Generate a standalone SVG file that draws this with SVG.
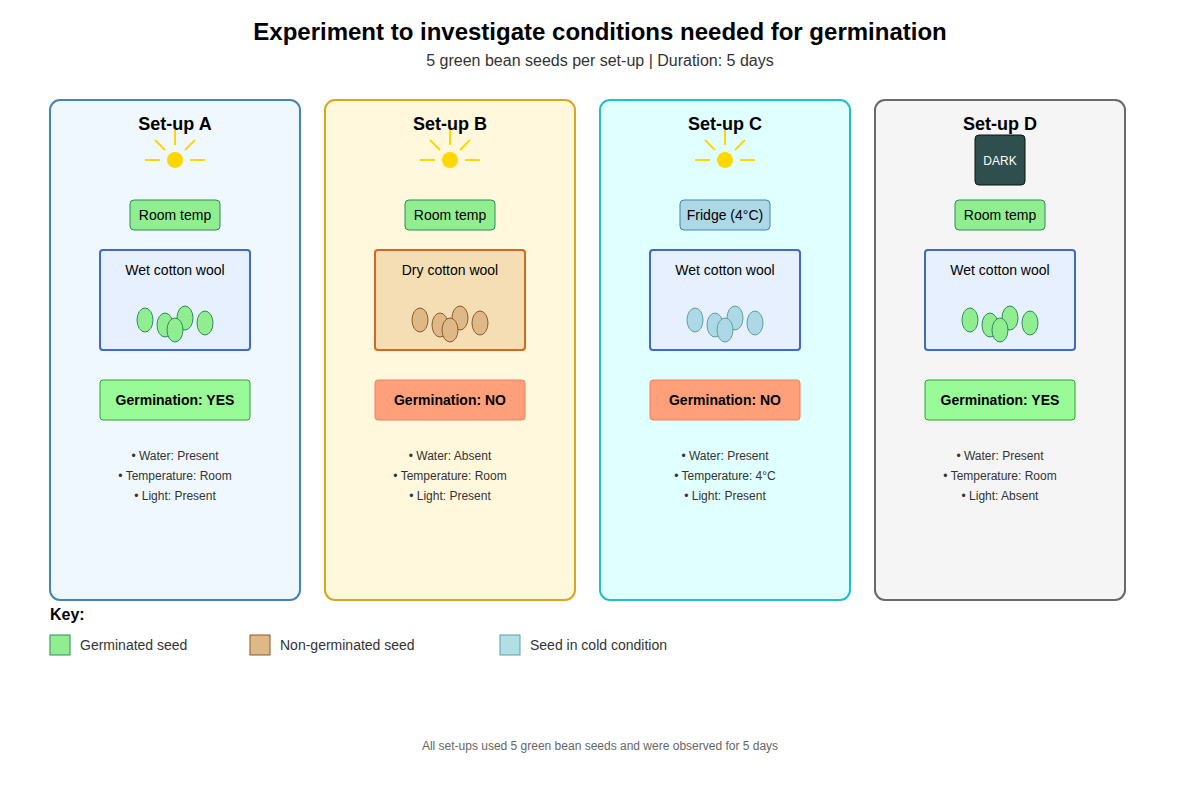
<svg xmlns="http://www.w3.org/2000/svg" width="1200" height="800" viewBox="0 0 1200 800">
<style>
text{font-family:"Liberation Sans",Arial,sans-serif;fill:#000}
.t{font-size:18px;font-weight:bold;text-anchor:middle}
.m{font-size:14px;text-anchor:middle}
.s{font-size:12px;text-anchor:middle;fill:#333}
.ray{stroke:#FFD700;stroke-width:2}
.g{fill:#90EE90;stroke:#2E8B57;stroke-width:1}
.b{fill:#DEB887;stroke:#8B5A2B;stroke-width:1}
.c{fill:#ADD8E6;stroke:#5F9EA0;stroke-width:1}
.yes{fill:#98FB98;stroke:#32A032;stroke-width:1}
.no{fill:#FFA07A;stroke:#F08060;stroke-width:1}
</style>
<defs>
<g id="sun"><circle cx="0" cy="0" r="8" fill="#FFD700"/><line class="ray" x1="0" y1="-30" x2="0" y2="-15"/><line class="ray" x1="-20" y1="-20" x2="-10" y2="-10"/><line class="ray" x1="10" y1="-10" x2="20" y2="-20"/><line class="ray" x1="-30" y1="0" x2="-15" y2="0"/><line class="ray" x1="15" y1="0" x2="30" y2="0"/></g>
</defs>
<text x="600" y="40" style="font-size:24px;font-weight:bold;text-anchor:middle">Experiment to investigate conditions needed for germination</text>
<text x="600" y="66" style="font-size:16px;text-anchor:middle;fill:#333">5 green bean seeds per set-up | Duration: 5 days</text>

<g id="setupA">
<rect x="50" y="100" width="250" height="500" rx="10" fill="#F0F8FF" stroke="#4682B4" stroke-width="2"/>
<text class="t" x="175" y="130">Set-up A</text>
<use href="#sun" x="175" y="160"/>
<rect x="130" y="200" width="90" height="30" rx="4" fill="#90EE90" stroke="#2E8B57"/>
<text class="m" x="175" y="220">Room temp</text>
<rect x="100" y="250" width="150" height="100" rx="3" fill="#E6F0FF" stroke="#4169C8" stroke-width="2"/>
<text class="m" x="175" y="275">Wet cotton wool</text>
<ellipse class="g" cx="145" cy="320" rx="8" ry="12"/><ellipse class="g" cx="165" cy="325" rx="8" ry="12"/><ellipse class="g" cx="185" cy="318" rx="8" ry="12"/><ellipse class="g" cx="175" cy="330" rx="8" ry="12"/><ellipse class="g" cx="205" cy="323" rx="8" ry="12"/>
<rect class="yes" x="100" y="380" width="150" height="40" rx="3"/>
<text class="m" x="175" y="405" font-weight="bold">Germination: YES</text>
<text class="s" x="175" y="460">• Water: Present</text><text class="s" x="175" y="480">• Temperature: Room</text><text class="s" x="175" y="500">• Light: Present</text>
</g>

<g id="setupB">
<rect x="325" y="100" width="250" height="500" rx="10" fill="#FFF8DC" stroke="#DAA520" stroke-width="2"/>
<text class="t" x="450" y="130">Set-up B</text>
<use href="#sun" x="450" y="160"/>
<rect x="405" y="200" width="90" height="30" rx="4" fill="#90EE90" stroke="#2E8B57"/>
<text class="m" x="450" y="220">Room temp</text>
<rect x="375" y="250" width="150" height="100" rx="3" fill="#F5DEB3" stroke="#D2691E" stroke-width="2"/>
<text class="m" x="450" y="275">Dry cotton wool</text>
<ellipse class="b" cx="420" cy="320" rx="8" ry="12"/><ellipse class="b" cx="440" cy="325" rx="8" ry="12"/><ellipse class="b" cx="460" cy="318" rx="8" ry="12"/><ellipse class="b" cx="450" cy="330" rx="8" ry="12"/><ellipse class="b" cx="480" cy="323" rx="8" ry="12"/>
<rect class="no" x="375" y="380" width="150" height="40" rx="3"/>
<text class="m" x="450" y="405" font-weight="bold">Germination: NO</text>
<text class="s" x="450" y="460">• Water: Absent</text><text class="s" x="450" y="480">• Temperature: Room</text><text class="s" x="450" y="500">• Light: Present</text>
</g>

<g id="setupC">
<rect x="600" y="100" width="250" height="500" rx="10" fill="#E0FFFF" stroke="#20C0C8" stroke-width="2"/>
<text class="t" x="725" y="130">Set-up C</text>
<use href="#sun" x="725" y="160"/>
<rect x="680" y="200" width="90" height="30" rx="4" fill="#ADD8E6" stroke="#4682B4"/>
<text class="m" x="725" y="220">Fridge (4°C)</text>
<rect x="650" y="250" width="150" height="100" rx="3" fill="#E6F0FF" stroke="#4169C8" stroke-width="2"/>
<text class="m" x="725" y="275">Wet cotton wool</text>
<ellipse class="c" cx="695" cy="320" rx="8" ry="12"/><ellipse class="c" cx="715" cy="325" rx="8" ry="12"/><ellipse class="c" cx="735" cy="318" rx="8" ry="12"/><ellipse class="c" cx="725" cy="330" rx="8" ry="12"/><ellipse class="c" cx="755" cy="323" rx="8" ry="12"/>
<rect class="no" x="650" y="380" width="150" height="40" rx="3"/>
<text class="m" x="725" y="405" font-weight="bold">Germination: NO</text>
<text class="s" x="725" y="460">• Water: Present</text><text class="s" x="725" y="480">• Temperature: 4°C</text><text class="s" x="725" y="500">• Light: Present</text>
</g>

<g id="setupD">
<rect x="875" y="100" width="250" height="500" rx="10" fill="#F5F5F5" stroke="#696969" stroke-width="2"/>
<text class="t" x="1000" y="130">Set-up D</text>
<rect x="975" y="135" width="50" height="50" rx="4" fill="#2F4F4F" stroke="#111" stroke-width="1"/>
<text x="1000" y="165" style="font-size:12px;text-anchor:middle;fill:#fff">DARK</text>
<rect x="955" y="200" width="90" height="30" rx="4" fill="#90EE90" stroke="#2E8B57"/>
<text class="m" x="1000" y="220">Room temp</text>
<rect x="925" y="250" width="150" height="100" rx="3" fill="#E6F0FF" stroke="#4169C8" stroke-width="2"/>
<text class="m" x="1000" y="275">Wet cotton wool</text>
<ellipse class="g" cx="970" cy="320" rx="8" ry="12"/><ellipse class="g" cx="990" cy="325" rx="8" ry="12"/><ellipse class="g" cx="1010" cy="318" rx="8" ry="12"/><ellipse class="g" cx="1000" cy="330" rx="8" ry="12"/><ellipse class="g" cx="1030" cy="323" rx="8" ry="12"/>
<rect class="yes" x="925" y="380" width="150" height="40" rx="3"/>
<text class="m" x="1000" y="405" font-weight="bold">Germination: YES</text>
<text class="s" x="1000" y="460">• Water: Present</text><text class="s" x="1000" y="480">• Temperature: Room</text><text class="s" x="1000" y="500">• Light: Absent</text>
</g>

<g id="connectors"></g>

<g id="key">
<text x="50" y="620" style="font-size:16px;font-weight:bold">Key:</text>
<rect x="50" y="635" width="20" height="20" fill="#90EE90" stroke="#2E8B57"/>
<text x="80" y="650" style="font-size:14px;fill:#333">Germinated seed</text>
<rect x="250" y="635" width="20" height="20" fill="#DEB887" stroke="#8B5A2B"/>
<text x="280" y="650" style="font-size:14px;fill:#333">Non-germinated seed</text>
<rect x="500" y="635" width="20" height="20" fill="#B0E0E6" stroke="#5F9EA0"/>
<text x="530" y="650" style="font-size:14px;fill:#333">Seed in cold condition</text>
</g>
<text x="600" y="750" style="font-size:12px;text-anchor:middle;fill:#666">All set-ups used 5 green bean seeds and were observed for 5 days</text>
</svg>
